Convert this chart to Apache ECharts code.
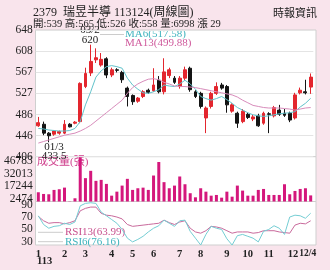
<!DOCTYPE html>
<html><head><meta charset="utf-8">
<script src="https://cdn.jsdelivr.net/npm/echarts@6/dist/echarts.min.js"></script>
<style>html,body{margin:0;padding:0;background:#f9e4ec}#c{width:330px;height:270px}</style>
</head><body><div id="c"></div>
<script>
const opens  = [465,468,451,449,451,451,468,470,473,540,566,591,581,593,562,572,567,537,523,512,521,533,532,552,530,561,556,540,556,575,530,527,480,502,527,543,540,493,489,473,487,478,484,470,488,484,495,489,489,480,528,530,539];
const closes = [471,451,446,455,454,468,463,472,546,565,588,595,592,562,572,571,553,521,511,518,530,529,543,530,568,572,548,556,572,534,521,502,499,527,540,537,505,505,470,493,481,482,465,489,487,500,487,485,476,524,533,528,558];
const lows   = [463,447,433.5,446,448,449,462,468,470,537,560,585,578,556,558,567,547,502,505,509,518,526,530,527,525,556,545,536,552,530,518,498,451,498,524,534,490,490,461,470,478,474,463,467,451,481,484,482,472,477,525,525,526];
const highs  = [482,473,453,457,456,476,470,474,548,576,620,613,604,596,576,575,570,540,525,520,533,536,575,560,594,576,560,560,578,578,533,530,502,530,548,547,543,508,492,497,490,486,488,492,491,503,505,497,492,528,538,553,565];
const ma6    = [460,459,457,456,455,455,456,460,473,505,530,558,570,578,580,578,575,556,543,535,528,527,530,534,543,541,540,545,552,545,535,521,517,514,517,521,515,508,500,495,490,486,484,483,484,486,488,489,490,492,501,508,517.58];
const ma13   = [432,435,438,441,444,447,449,451,455,460,466,474,482,490,498,506,514,527,538,545,550,554,555,553,548,545,541,540,540,539,538,536,534,532,530,528,526,524,520,514,509,504,502,500,499,499,499,498,497,495,497,499,499.88];
const volume = [10600,8660,8300,13280,14070,15940,300,3700,50600,26800,35200,23700,24800,20200,6700,11300,18250,26000,13300,15200,15900,13300,29800,45300,22200,15200,18250,28700,19800,9500,4800,15200,11300,6700,7500,4400,11300,5550,18250,12500,6700,6700,13300,14400,7500,7500,7500,19800,8300,12100,14400,15200,6998];
const rsi6   = [72,58,52,55,56,60,58,62,88,92,93,92,78,72,66,60,50,36,30,34,39,46,52,56,65,60,55,64,65,47,36,25,42,55,52,50,35,25,40,42,39,36,30,47,50,56,52,42,70,73,72,68,76.16];
const rsi13  = [71,64,60,61,61,59,61,64,80,84,86,86,76,73,72,70,67,58,55,56,57,58,59,60,65,61,58,62,64,52,46,44,48,55,54,52,48,44,46,46,46,44,45,48,48,48,46,45,44,57,60,59,63.99];
const priceTicks = [406,446,486,527,567,608,648];
const volTicks = [2474,17244,32013,46783];
const rsiTicks = [30,50,70,90];
const monthIdx = [0,5,9,14,18,22,27,31,36,40,44,49,52];
const monthText = ['1','2','3','4','5','6','7','8','9','10','11','12','12/4'];
const categories = opens.map((_, i) => 'W' + (i + 1));

const serif = "'Liberation Serif','Noto Sans CJK TC',serif";
const candle = opens.map((o, i) => [o, closes[i], lows[i], highs[i]]);
const L = 35.7, R = 16.7;
const chart = echarts.init(document.getElementById('c'));
const axisLbl = {fontFamily: serif, fontSize: 11.5, color: '#222', margin: 3};
function xa(gi, show) {
  return {type: 'category', gridIndex: gi, data: categories, boundaryGap: true,
    axisLine: {show: false}, axisTick: {show: false}, splitLine: {show: false},
    axisLabel: show ? {show: true, fontFamily: serif, fontSize: 10.5, fontWeight: 'bold', color: '#222', margin: 4,
      showMaxLabel: true, showMinLabel: true, hideOverlap: false, interval: 0,
      rich: {
        d: {fontFamily: serif, fontSize: 10.5, fontWeight: 'bold', color: '#222', padding: [0, 4, 0, 0]},
        e: {fontFamily: serif, fontSize: 9.5, fontWeight: 'bold', color: '#222', padding: [0, 6, 0, 0]}
      },
      formatter: (v, i) => {
        const k = monthIdx.indexOf(i);
        if (k < 0) return '';
        if (k === monthIdx.length - 1) return '{e|' + monthText[k] + '}';
        if (k === monthIdx.length - 2) return '{d|' + monthText[k] + '}';
        return monthText[k];
      }} : {show: false}};
}
chart.setOption({
  backgroundColor: '#f9e4ec',
  animation: false,
  graphic: [
    {type: 'rect', z: -1, shape: {x: 35.5, y: 30, width: 280.5, height: 126.7}, style: {fill: '#fff', stroke: '#cfcfcf', lineWidth: 1}},
    {type: 'rect', z: -1, shape: {x: 35.5, y: 156.7, width: 280.5, height: 44.8}, style: {fill: '#fff', stroke: '#cfcfcf', lineWidth: 1}},
    {type: 'rect', z: -1, shape: {x: 35.5, y: 201.5, width: 280.5, height: 43.5}, style: {fill: '#fff', stroke: '#cfcfcf', lineWidth: 1}},
    {type: 'text', left: 33, top: 7, style: {text: '2379  瑞昱半導 113124(周線圖)', font: "12px " + serif, fill: '#222'}},
    {type: 'text', left: 33, top: 19, style: {text: '開:539 高:565 低:526 收:558 量:6998 漲 29', font: "10.5px " + serif, fill: '#222'}},
    {type: 'text', left: 273, top: 8.5, style: {text: '時報資訊', font: "11px " + serif, fill: '#222'}},
    {type: 'text', x: 90, y: 30, style: {text: '03/2', font: "11px " + serif, fill: '#222', align: 'center', verticalAlign: 'middle'}},
    {type: 'text', x: 90, y: 40.5, style: {text: '620', font: "11px " + serif, fill: '#222', align: 'center', verticalAlign: 'middle'}},
    {type: 'text', x: 54, y: 147.5, style: {text: '01/3', font: "11px " + serif, fill: '#222', align: 'center', verticalAlign: 'middle'}},
    {type: 'text', x: 54, y: 156, z: 5, style: {text: '433.5', font: "11px " + serif, fill: '#222', align: 'center', verticalAlign: 'middle'}},
    {type: 'line', shape: {x1: 100, y1: 34.5, x2: 124, y2: 34.5}, style: {stroke: '#cccccc', lineWidth: 1}},
    {type: 'text', x: 125, y: 34.5, style: {text: 'MA6(517.58)', font: "11px " + serif, fill: '#3fb3bd', verticalAlign: 'middle'}},
    {type: 'text', x: 125, y: 43, style: {text: 'MA13(499.88)', font: "11px " + serif, fill: '#cf5a9c', verticalAlign: 'middle'}},
    {type: 'text', x: 37, y: 162, style: {text: '成交量(張)', font: "11px " + serif, fill: '#cf3f8c', verticalAlign: 'middle'}},
    {type: 'line', shape: {x1: 38, y1: 232.3, x2: 63, y2: 232.3}, style: {stroke: '#cccccc', lineWidth: 1}},
    {type: 'line', shape: {x1: 38, y1: 241.7, x2: 63, y2: 241.7}, style: {stroke: '#cccccc', lineWidth: 1}},
    {type: 'text', x: 65, y: 232.3, style: {text: 'RSI13(63.99)', font: "11px " + serif, fill: '#c8508e', verticalAlign: 'middle'}},
    {type: 'text', x: 65, y: 241.7, style: {text: 'RSI6(76.16)', font: "11px " + serif, fill: '#3fb3bd', verticalAlign: 'middle'}},
    {type: 'text', x: 37, y: 261, style: {text: '113', font: "bold 10.5px " + serif, fill: '#222', verticalAlign: 'middle'}}
  ],
  grid: [
    {left: L, right: R, top: 30, height: 126.7},
    {left: L, right: R, top: 156.7, height: 44.8},
    {left: L, right: R, top: 201.5, height: 43.5}
  ],
  xAxis: [xa(0, false), xa(1, false), xa(2, true)],
  yAxis: [
    {gridIndex: 0, min: 406, max: 648, interval: (648 - 406) / 6, axisLine: {show: false}, axisTick: {show: false},
      splitLine: {show: true, lineStyle: {color: '#e4e4e4', width: 1}},
      axisLabel: Object.assign({customValues: priceTicks, formatter: v => String(Math.round(v))}, axisLbl)},
    {gridIndex: 1, min: 0, max: 51403, axisLine: {show: false}, axisTick: {show: false}, splitLine: {show: false},
      axisLabel: Object.assign({customValues: volTicks, formatter: v => String(Math.round(v))}, axisLbl)},
    {gridIndex: 2, min: 25, max: 95, axisLine: {show: false}, axisTick: {show: false}, splitLine: {show: false},
      axisLabel: Object.assign({customValues: rsiTicks, formatter: v => String(Math.round(v))}, axisLbl)}
  ],
  series: [
    {type: 'candlestick', xAxisIndex: 0, yAxisIndex: 0, data: candle, barWidth: 3.4,
      itemStyle: {color: '#e3262e', color0: '#141414', borderColor: '#e3262e', borderColor0: '#141414', borderWidth: 1}},
    {type: 'line', xAxisIndex: 0, yAxisIndex: 0, data: ma6, symbol: 'none', lineStyle: {color: '#62c3cb', width: 1}},
    {type: 'line', xAxisIndex: 0, yAxisIndex: 0, data: ma13, symbol: 'none', lineStyle: {color: '#d88cbb', width: 1}},
    {type: 'bar', xAxisIndex: 1, yAxisIndex: 1, data: volume, barWidth: 3, itemStyle: {color: '#d4177c'}},
    {type: 'line', xAxisIndex: 2, yAxisIndex: 2, data: rsi13, symbol: 'none', lineStyle: {color: '#c96a9c', width: 1}},
    {type: 'line', xAxisIndex: 2, yAxisIndex: 2, data: rsi6, symbol: 'none', lineStyle: {color: '#74cdd3', width: 1}}
  ]
});
</script></body></html>
